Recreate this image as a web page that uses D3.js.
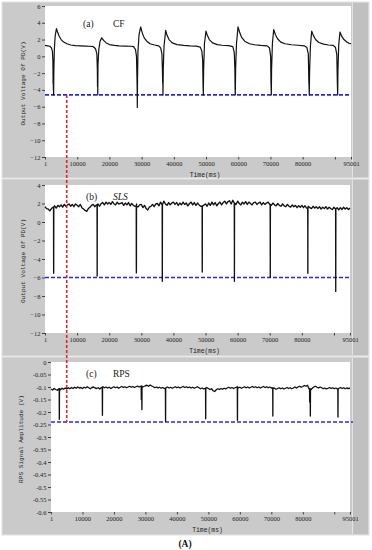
<!DOCTYPE html>
<html>
<head>
<meta charset="utf-8">
<script src="https://cdn.jsdelivr.net/npm/d3@7"></script>
<style>
  body { margin: 0; background: #fff; }
  svg { display: block; }
</style>
</head>
<body>
<div id="chart"></div>
<script>
// x axis (time, ms)
const xTicks = [1, 10000, 20000, 30000, 40000, 50000, 60000, 70000, 80000, 95001];
const xMinorTicks = [90000];

// y ticks per panel
const cfTicks = [6, 4, 2, 0, -2, -4, -6, -8, -10, -12];
const slsTicks = [4, 2, 0, -2, -4, -6, -8, -10, -12];
const rpsTicks = [0, -0.05, -0.1, -0.15, -0.2, -0.25, -0.3, -0.35, -0.4, -0.45, -0.5, -0.55, -0.6];

// threshold levels (blue dashed)
const cfThreshold = -4.6;
const slsThreshold = -6;
const rpsThreshold = -0.24;
const markerTime = 6740; // red dashed vertical

// (a) CF: [time, volts]
const cfSeries = [
  [1, 1.30], [800, 1.25], [1500, 1.2], [2000, 1.0], [2300, 0.6], [2450, -0.5], [2520, -3.2], [2560, -2.6],
  [2600, -4.0], [2640, -3.3], [2680, -4.6], [2760, -1.5], [2900, 0.8], [3150, 2.4], [3550, 3.3], [3900, 2.9],
  [4400, 2.4], [5000, 2.0], [5800, 1.7], [6800, 1.5], [8000, 1.35], [9500, 1.28], [11000, 1.25], [12500, 1.22],
  [14000, 1.2], [15000, 1.15], [15700, 0.9], [16100, 0.3], [16250, -1.5], [16300, -3.6], [16340, -2.8],
  [16380, -4.6], [16450, -1.0], [16700, 0.8], [17100, 1.8], [17600, 2.2], [18200, 1.9], [19000, 1.6],
  [20000, 1.4], [21500, 1.3], [23000, 1.25], [25000, 1.22], [26500, 1.2], [27500, 1.15], [28100, 0.8],
  [28400, 0.0], [28550, -2.5], [28620, -4.0], [28660, -6.1], [28720, -3.0], [28850, 0.5], [29200, 2.6],
  [29700, 3.5], [30200, 2.8], [30800, 2.2], [31600, 1.8], [32600, 1.5], [34000, 1.35], [35300, 1.25],
  [35900, 1.0], [36300, 0.3], [36450, -1.5], [36530, -3.2], [36580, -2.8], [36630, -4.6], [36720, -1.5],
  [36950, 1.2], [37470, 3.1], [37900, 2.5], [38500, 2.0], [39500, 1.6], [41000, 1.4], [43000, 1.3],
  [45000, 1.25], [47000, 1.22], [48200, 1.1], [48700, 0.6], [48950, -0.5], [49050, -3.0], [49150, -4.6],
  [49250, -1.6], [49500, 1.5], [49980, 3.0], [50400, 2.5], [51000, 2.0], [52000, 1.6], [53500, 1.4],
  [55000, 1.32], [57000, 1.28], [58300, 1.15], [58750, 0.5], [58950, -1.5], [59020, -3.8], [59080, -4.6],
  [59180, -1.5], [59450, 1.5], [59920, 3.5], [60400, 2.9], [61000, 2.3], [62000, 1.8], [63500, 1.5],
  [65000, 1.38], [67000, 1.3], [69000, 1.25], [69700, 1.0], [70050, 0.0], [70150, -3.0], [70260, -4.6],
  [70350, -1.5], [70600, 1.5], [71000, 3.2], [71500, 2.6], [72200, 2.1], [73200, 1.7], [74500, 1.5],
  [76500, 1.38], [78500, 1.32], [80500, 1.25], [81300, 1.05], [81750, 0.3], [81900, -2.8], [81980, -3.6],
  [82050, -4.6], [82150, -1.8], [82400, 1.2], [82800, 3.0], [83300, 2.5], [84000, 2.0], [85000, 1.65],
  [86500, 1.45], [88000, 1.35], [89500, 1.3], [90200, 1.05], [90600, 0.2], [90750, -3.0], [90860, -4.6],
  [90960, -1.5], [91200, 1.4], [91580, 2.9], [92100, 2.4], [92800, 2.0], [93700, 1.7], [94400, 1.55],
  [95001, 1.5]
];

// (b) SLS: baseline sampled every 500 ms, plus spikes [time, mid, bottom]
const sampleStep = 500;
const slsBaseline = [
  1.65, 1.45, 1.4, 1.2, 1.45, 1.6, 1.75, 1.5, 1.8, 1.65,
  1.85, 1.6, 1.9, 1.7, 1.85, 1.95, 1.7, 1.9, 1.65, 1.95,
  1.8, 1.65, 1.9, 1.55, 1.4, 1.25, 1.15, 1.45, 1.6, 1.8,
  1.9, 1.65, 1.85, 1.95, 1.7, 2.0, 2.1, 1.85, 2.15, 1.95,
  2.1, 1.9, 2.2, 1.95, 1.85, 2.15, 1.95, 2.0, 2.1, 1.8,
  2.05, 1.85, 2.1, 1.75, 2.0, 1.8, 1.7, 1.95, 1.65, 1.85,
  1.9, 1.55, 1.8, 1.45, 1.3, 1.6, 1.7, 1.9, 1.65, 1.95,
  2.0, 1.75, 2.15, 1.85, 2.25, 1.95, 1.8, 2.1, 1.85, 2.05,
  2.15, 1.9, 2.1, 1.8, 2.05, 1.85, 2.15, 1.9, 2.05, 1.75,
  2.0, 2.15, 1.85, 2.1, 1.8, 2.05, 1.85, 1.7, 1.6, 1.85,
  1.95, 1.7, 2.05, 1.8, 2.15, 1.85, 2.1, 1.75, 2.0, 2.15,
  1.85, 2.1, 2.25, 1.95, 2.2, 2.3, 1.95, 2.35, 2.05, 1.9,
  2.25, 2.0, 1.85, 2.15, 1.95, 2.2, 1.9, 2.15, 2.0, 1.85,
  2.1, 2.15, 1.9, 2.05, 2.15, 1.85, 2.1, 1.9, 2.05, 2.15,
  1.9, 1.8, 2.05, 1.85, 1.75, 2.0, 1.8, 1.7, 1.95, 1.75,
  1.65, 1.9, 1.7, 1.6, 1.85, 1.65, 1.8, 1.55, 1.75, 1.6,
  1.8, 1.55, 1.75, 1.5, 1.7, 1.55, 1.45, 1.7, 1.5, 1.65,
  1.45, 1.65, 1.4, 1.6, 1.45, 1.65, 1.4, 1.6, 1.45, 1.35,
  1.6, 1.4, 1.55, 1.3, 1.55, 1.35, 1.6, 1.4, 1.55, 1.35,
  1.5
];
const slsSpikes = [
  [2700, -3.6, -5.55], [16250, -2.0, -5.84], [28460, -4.5, -5.5], [36540, -2.8, -6.4],
  [48980, -3.8, -5.4], [59000, -2.0, -6.4], [70170, -1.5, -5.98], [81870, -0.8, -5.55],
  [90560, -3.5, -7.5]
];

// (c) RPS: baseline sampled every 500 ms, plus spikes [time, bottom]
const rpsBaseline = [
  -0.108, -0.112, -0.106, -0.11, -0.113, -0.107, -0.111, -0.105, -0.109, -0.104,
  -0.108, -0.103, -0.107, -0.102, -0.106, -0.101, -0.105, -0.1, -0.104, -0.102,
  -0.106, -0.101, -0.104, -0.099, -0.103, -0.107, -0.102, -0.1, -0.104, -0.106,
  -0.103, -0.108, -0.102, -0.099, -0.103, -0.1, -0.104, -0.101, -0.106, -0.102,
  -0.099, -0.103, -0.1, -0.105, -0.101, -0.098, -0.102, -0.099, -0.103, -0.1,
  -0.097, -0.101, -0.098, -0.102, -0.099, -0.096, -0.1, -0.097, -0.101, -0.098,
  -0.095, -0.093, -0.097, -0.092, -0.096, -0.099, -0.103, -0.1, -0.104, -0.101,
  -0.105, -0.102, -0.106, -0.103, -0.1, -0.104, -0.101, -0.105, -0.102, -0.099,
  -0.103, -0.1, -0.104, -0.101, -0.098, -0.102, -0.099, -0.103, -0.1, -0.104,
  -0.101, -0.105, -0.102, -0.099, -0.103, -0.107, -0.104, -0.108, -0.105, -0.102,
  -0.106, -0.11, -0.107, -0.115, -0.118, -0.111, -0.107, -0.11, -0.106, -0.109,
  -0.105, -0.108, -0.104, -0.101, -0.105, -0.102, -0.106, -0.103, -0.1, -0.104,
  -0.101, -0.105, -0.102, -0.099, -0.103, -0.1, -0.104, -0.101, -0.098, -0.102,
  -0.099, -0.103, -0.1, -0.104, -0.101, -0.098, -0.102, -0.099, -0.103, -0.1,
  -0.104, -0.108, -0.105, -0.109, -0.106, -0.103, -0.107, -0.104, -0.108, -0.105,
  -0.102, -0.106, -0.103, -0.107, -0.104, -0.1, -0.104, -0.1, -0.097, -0.101,
  -0.098, -0.094, -0.097, -0.093, -0.108, -0.112, -0.105, -0.1, -0.097, -0.101,
  -0.104, -0.1, -0.103, -0.107, -0.104, -0.108, -0.105, -0.102, -0.106, -0.103,
  -0.107, -0.104, -0.108, -0.105, -0.102, -0.106, -0.103, -0.107, -0.104, -0.106,
  -0.105
];
const rpsSpikes = [
  [2650, -0.229], [16340, -0.213], [28700, -0.15], [28880, -0.19], [36400, -0.237],
  [49150, -0.227], [59240, -0.233], [70490, -0.216], [82200, -0.16], [82400, -0.216],
  [91180, -0.22]
];

// baseline samples + spike points; spikes start and end at the sample just before them
function withSpikes(values, spikes) {
  const pts = values.map((v, i) => [Math.max(1, i * sampleStep), v]);
  spikes.forEach((s) => {
    const base = values[Math.floor(s[0] / sampleStep)];
    const bottom = s[s.length - 1];
    pts.push([s[0] - 40, base]);
    if (s.length === 3) pts.push([s[0] - 15, s[1]]);
    pts.push([s[0], bottom]);
    if (s.length === 3) pts.push([s[0] + 15, s[1]]);
    pts.push([s[0] + 40, base]);
  });
  return pts.sort((a, b) => a[0] - b[0]);
}

const slsSeries = withSpikes(slsBaseline, slsSpikes);
const rpsSeries = withSpikes(rpsBaseline, rpsSpikes);

const W = 372, H = 550;
const svg = d3.select('#chart').append('svg')
  .attr('width', W).attr('height', H);

const panels = [
  { box: [2, 2, 367, 176], plot: { l: 45, r: 351, t: 6, b: 157 }, y: [-12, 6], ticks: cfTicks, ylx: 25,
    data: cfSeries, thr: cfThreshold, ylab: 'Output Voltage Of PD(V)', tag: '(a)', name: 'CF', italic: false, fmt: d3.format('d') },
  { box: [2, 179, 367, 177], plot: { l: 45, r: 350, t: 185, b: 333 }, y: [-12, 4], ticks: slsTicks, ylx: 25,
    data: slsSeries, thr: slsThreshold, ylab: 'Output Voltage Of PD(V)', tag: '(b)', name: 'SLS', italic: true, fmt: d3.format('d') },
  { box: [2, 357, 367, 178], plot: { l: 51, r: 350, t: 362, b: 512 }, y: [-0.6, 0], ticks: rpsTicks, ylx: 23,
    data: rpsSeries, thr: rpsThreshold, ylab: 'RPS Signal Amplitude (V)', tag: '(c)', name: 'RPS', italic: false, fmt: d => d === 0 ? '0' : String(d) }
];

const tickFont = '"Liberation Serif", serif';
const monoFont = '"Liberation Mono", "DejaVu Sans Mono", monospace';

panels.forEach((p) => {
  const [bx, by, bw, bh] = p.box;
  const g = svg.append('g');

  // gray frame
  g.append('rect').attr('x', bx).attr('y', by).attr('width', bw).attr('height', bh)
    .attr('fill', '#cacaca').attr('stroke', '#e2e2e2').attr('stroke-width', 1);
  g.append('rect').attr('x', 353).attr('y', by + 1).attr('width', bx + bw - 354).attr('height', bh - 2)
    .attr('fill', '#c0c0c0');
  g.append('line').attr('x1', 352.5).attr('x2', 352.5).attr('y1', by + 1).attr('y2', by + bh - 1)
    .attr('stroke', '#e4e4e4');

  const x = d3.scaleLinear().domain([1, 95001]).range([p.plot.l, p.plot.r]);
  const y = d3.scaleLinear().domain(p.y).range([p.plot.b, p.plot.t]);
  p.x = x; p.yScale = y;

  g.append('rect').attr('x', p.plot.l).attr('y', p.plot.t)
    .attr('width', p.plot.r - p.plot.l).attr('height', p.plot.b - p.plot.t)
    .attr('fill', '#fff');

  // y axis
  const yAxis = g.append('g').attr('transform', `translate(${p.plot.l},0)`)
    .call(d3.axisLeft(y).tickValues(p.ticks).tickFormat(p.fmt).tickSize(3).tickPadding(1.5));
  yAxis.select('.domain').remove();
  yAxis.selectAll('line').attr('stroke', '#444');
  yAxis.selectAll('text').attr('font-family', tickFont).attr('font-size', 6.5).attr('fill', '#222');

  // x axis
  const xAxis = g.append('g').attr('transform', `translate(0,${p.plot.b})`)
    .call(d3.axisBottom(x).tickValues(xTicks).tickFormat(d3.format('d')).tickSize(2.5).tickPadding(2));
  xAxis.select('.domain').remove();
  xAxis.selectAll('line').attr('stroke', '#444');
  xAxis.selectAll('text').attr('font-family', tickFont).attr('font-size', 6.5).attr('fill', '#222');
  g.append('g').attr('transform', `translate(0,${p.plot.b})`)
    .call(d3.axisBottom(x).tickValues(xMinorTicks).tickFormat('').tickSize(2.5))
    .call(s => s.select('.domain').remove())
    .selectAll('line').attr('stroke', '#444');

  g.append('text')
    .attr('x', (p.plot.l + p.plot.r) / 2 + 7).attr('y', p.plot.b + 19.5)
    .attr('text-anchor', 'middle').attr('font-family', monoFont).attr('font-size', 6.4)
    .attr('fill', '#222').text('Time(ms)');

  g.append('text')
    .attr('transform', `translate(${p.ylx},${(p.plot.t + p.plot.b) / 2 + 2}) rotate(-90)`)
    .attr('text-anchor', 'middle').attr('font-family', monoFont).attr('font-size', 6.1)
    .attr('fill', '#222').text(p.ylab);

  // threshold
  g.append('line')
    .attr('x1', p.plot.l).attr('x2', p.plot.r + (p.tag === '(c)' ? 3 : 0))
    .attr('y1', y(p.thr)).attr('y2', y(p.thr))
    .attr('stroke', '#2b2bd6').attr('stroke-width', 1.6).attr('stroke-dasharray', '4,2');

  // signal
  const line = d3.line().x(d => x(d[0])).y(d => y(d[1]));
  g.append('path').datum(p.data)
    .attr('d', line).attr('fill', 'none')
    .attr('stroke', '#111').attr('stroke-width', p.tag === '(a)' ? 1.2 : 1.35)
    .attr('stroke-linejoin', 'round');

  // labels
  const tagY = y(p.y[1]) + (p.tag === '(a)' ? 21 : 15);
  g.append('text').attr('x', p.tag === '(a)' ? 83 : 86).attr('y', tagY)
    .attr('font-family', '"Liberation Serif", serif').attr('font-size', 9.5).attr('fill', '#222')
    .text(p.tag);
  g.append('text').attr('x', 113).attr('y', tagY)
    .attr('font-family', '"Liberation Serif", serif').attr('font-size', 9.5).attr('fill', '#222')
    .attr('font-style', p.italic ? 'italic' : 'normal')
    .text(p.name);
});

// red dashed marker through all panels
const xa = panels[0].x;
svg.append('line')
  .attr('x1', xa(markerTime)).attr('x2', xa(markerTime))
  .attr('y1', panels[0].yScale(cfThreshold)).attr('y2', panels[2].yScale(rpsThreshold))
  .attr('stroke', '#e02424').attr('stroke-width', 1.6).attr('stroke-dasharray', '3,2');

svg.append('text').attr('x', 185).attr('y', 547).attr('text-anchor', 'middle')
  .attr('font-family', '"Liberation Serif", serif').attr('font-size', 9.5).attr('font-weight', 'bold')
  .attr('fill', '#111').text('(A)');
</script>
</body>
</html>
